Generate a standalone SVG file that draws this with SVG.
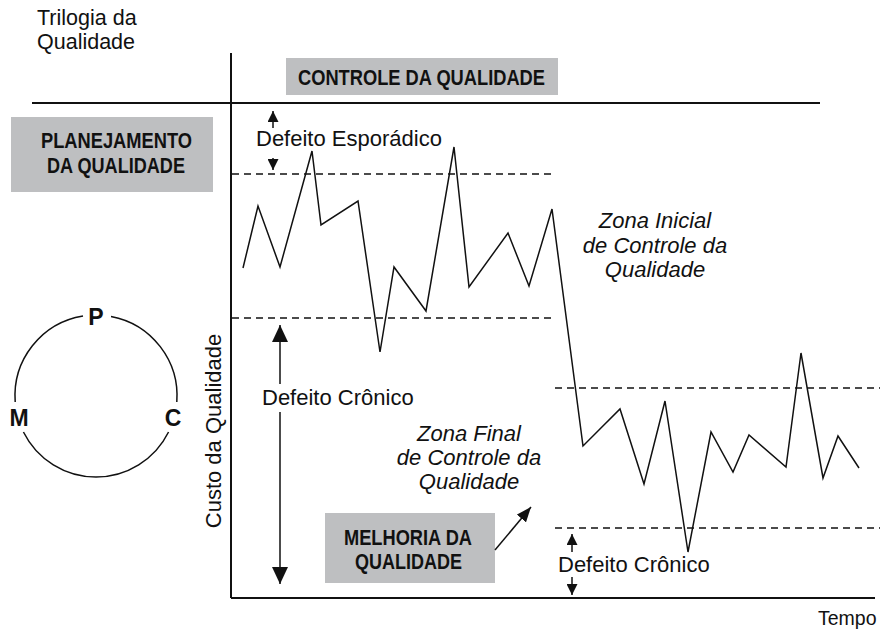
<svg xmlns="http://www.w3.org/2000/svg" width="882" height="633" viewBox="0 0 882 633">
<style>
.t{font-family:"Liberation Sans",Arial,sans-serif;font-size:22px;fill:#111}
.it{font-family:"Liberation Sans",Arial,sans-serif;font-size:22px;font-style:italic;fill:#111;text-anchor:middle}
.b{font-family:"Liberation Sans",Arial,sans-serif;font-size:22.5px;font-weight:bold;fill:#111}
.box{fill:#bebfc1}
.ax{stroke:#111;stroke-width:2;fill:none}
.dash{stroke:#111;stroke-width:1.4;stroke-dasharray:7 5;fill:none}
.ln{stroke:#111;stroke-width:1.5;fill:none}
</style>
<defs>
<marker id="big" markerUnits="userSpaceOnUse" markerWidth="17" markerHeight="16" refX="17" refY="8" orient="auto"><path d="M0,0 L17,8 L0,16 z" fill="#111"/></marker>
<marker id="small" markerUnits="userSpaceOnUse" markerWidth="11" markerHeight="11" refX="11" refY="5.5" orient="auto"><path d="M0,0 L11,5.5 L0,11 z" fill="#111"/></marker>
<marker id="mid" markerUnits="userSpaceOnUse" markerWidth="15" markerHeight="12" refX="15" refY="6" orient="auto"><path d="M0,0 L15,6 L0,12 z" fill="#111"/></marker>
</defs>

<g id="title">
<text class="t" x="37" y="25" style="font-size:21.5px">Trilogia da</text>
<text class="t" x="37" y="49" style="font-size:21.5px">Qualidade</text>
</g>

<g id="frame">
<line class="ax" x1="231" y1="53" x2="231" y2="598"/>
<line class="ax" x1="32" y1="103" x2="820" y2="103"/>
<line class="ax" x1="231" y1="598" x2="875" y2="598"/>
</g>

<g id="controle">
<rect class="box" x="286" y="58" width="272" height="37"/>
<text class="b" x="298" y="85" textLength="247" lengthAdjust="spacingAndGlyphs">CONTROLE DA QUALIDADE</text>
</g>

<g id="planejamento">
<rect class="box" x="11" y="117" width="202" height="75"/>
<text class="b" x="41" y="148" textLength="151" lengthAdjust="spacingAndGlyphs">PLANEJAMENTO</text>
<text class="b" x="47" y="173" textLength="138" lengthAdjust="spacingAndGlyphs">DA QUALIDADE</text>
</g>

<g id="melhoria">
<rect class="box" x="325" y="513" width="170" height="70"/>
<text class="b" x="344" y="545" textLength="128" lengthAdjust="spacingAndGlyphs">MELHORIA DA</text>
<text class="b" x="355" y="569" textLength="107" lengthAdjust="spacingAndGlyphs">QUALIDADE</text>
</g>

<g id="pmc">
<path class="ln" d="M83,316.05 A81,81 0 0,0 15.2,402 M23.44,432 A81,81 0 0,0 168.56,432 M176.8,402 A81,81 0 0,0 111,316.4"/>
<text class="b" x="96" y="325" text-anchor="middle" style="font-size:23px">P</text>
<text class="b" x="19" y="426" text-anchor="middle" style="font-size:23px">M</text>
<text class="b" x="173" y="426" text-anchor="middle" style="font-size:23px">C</text>
</g>

<g id="limits">
<line class="dash" x1="232" y1="174" x2="555" y2="174"/>
<line class="dash" x1="232" y1="318" x2="555" y2="318"/>
<line class="dash" x1="555" y1="388" x2="880" y2="388"/>
<line class="dash" x1="555" y1="528" x2="880" y2="528"/>
</g>

<g id="series">
<polyline class="ln" points="243,268 258,206 280,267 312,151 321,225 358,201 380,352 394,267 426,311 454,147 469,287 508,233 529,286 552,209 583,446 620,409 644,484 665,401 688,552 711,432 733,472 749,435 786,467 801,353 823,478 838,436 859,468"/>
</g>

<g id="connectors">
<line class="ln" x1="273" y1="128" x2="273" y2="111" marker-end="url(#small)"/>
<line class="ln" x1="273" y1="158" x2="273" y2="170" marker-end="url(#small)"/>
<line class="ln" x1="280" y1="384" x2="280" y2="325" marker-end="url(#big)"/>
<line class="ln" x1="280" y1="412" x2="280" y2="584" marker-end="url(#big)"/>
<line class="ln" x1="572" y1="552" x2="572" y2="534" marker-end="url(#small)"/>
<line class="ln" x1="572" y1="577" x2="572" y2="595" marker-end="url(#small)"/>
<line class="ln" x1="495" y1="550" x2="531" y2="507" marker-end="url(#mid)"/>
</g>

<g id="labels">
<text class="t" x="256" y="146">Defeito Esporádico</text>
<text class="t" x="262" y="405">Defeito Crônico</text>
<text class="t" x="558" y="572">Defeito Crônico</text>
<text class="it" x="655" y="228">Zona Inicial</text>
<text class="it" x="655" y="253">de Controle da</text>
<text class="it" x="655" y="277">Qualidade</text>
<text class="it" x="469" y="441">Zona Final</text>
<text class="it" x="469" y="465">de Controle da</text>
<text class="it" x="469" y="489">Qualidade</text>
<text class="t" x="818" y="625" style="font-size:19.5px">Tempo</text>
<text class="t" transform="translate(221,431) rotate(-90)" text-anchor="middle">Custo da Qualidade</text>
</g>
</svg>
